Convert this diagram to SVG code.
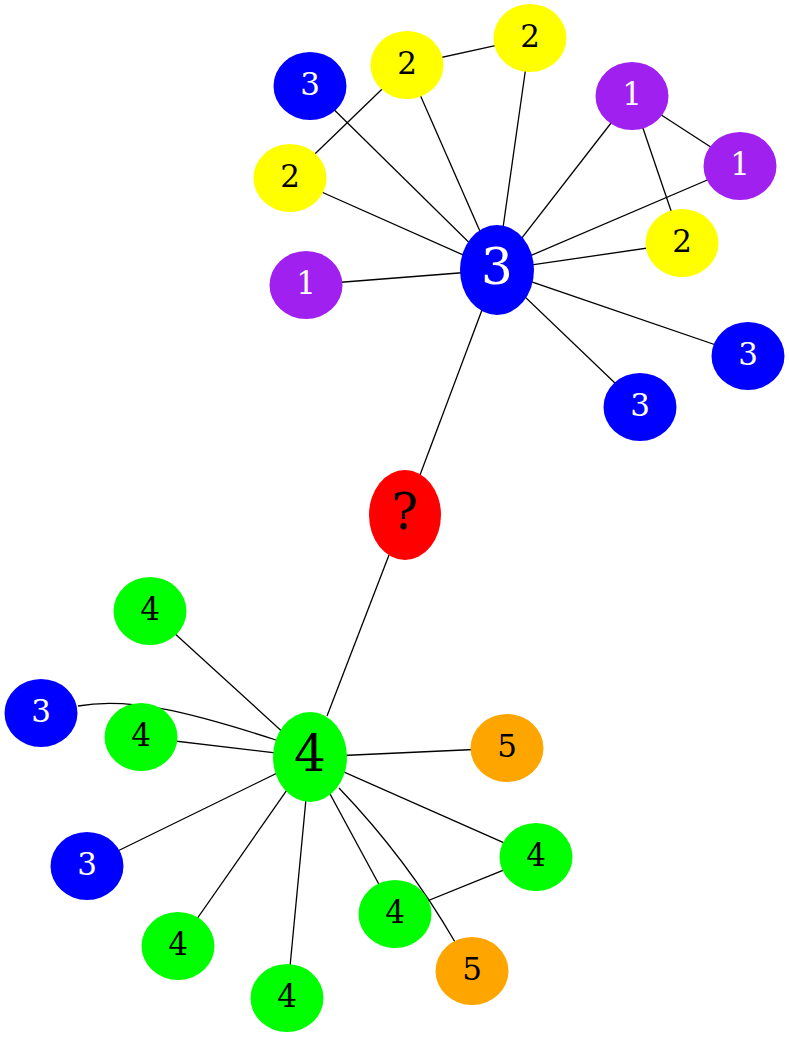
<svg xmlns="http://www.w3.org/2000/svg" width="789" height="1038" viewBox="0 0 789 1038">
<style>
.e{stroke:#000;stroke-width:1.3;fill:none}
.t{font-family:"DejaVu Serif","Liberation Serif",serif;font-size:31px;text-anchor:middle}
.big{font-size:50px}
.w{fill:#fff}
.k{fill:#000}
.blue{fill:#0000ff}.yel{fill:#ffff00}.pur{fill:#a020f0}.grn{fill:#00ff00}.org{fill:#ffa500}.red{fill:#ff0000}
</style>
<rect width="789" height="1038" fill="#fff"/>
<g id="connectors">
<line class="e" x1="497" y1="270" x2="310" y2="86"/>
<line class="e" x1="497" y1="270" x2="407" y2="65"/>
<line class="e" x1="497" y1="270" x2="530" y2="38"/>
<line class="e" x1="407" y1="65" x2="530" y2="38"/>
<line class="e" x1="290" y1="178" x2="407" y2="65"/>
<line class="e" x1="497" y1="270" x2="290" y2="178"/>
<line class="e" x1="497" y1="270" x2="632" y2="96"/>
<line class="e" x1="632" y1="96" x2="740" y2="166"/>
<line class="e" x1="632" y1="96" x2="682" y2="243"/>
<line class="e" x1="497" y1="270" x2="740" y2="166"/>
<line class="e" x1="497" y1="270" x2="682" y2="243"/>
<line class="e" x1="497" y1="270" x2="306" y2="285"/>
<line class="e" x1="497" y1="270" x2="748" y2="356"/>
<line class="e" x1="497" y1="270" x2="640" y2="407"/>
<line class="e" x1="497" y1="270" x2="405" y2="515"/>
<path class="e" d="M389,555 Q360,630 327,716"/>
<line class="e" x1="310" y1="757" x2="150" y2="611"/>
<path class="e" d="M78,706 C130,697 190,712 276,740"/>
<line class="e" x1="310" y1="757" x2="141" y2="737"/>
<line class="e" x1="310" y1="757" x2="507" y2="748"/>
<line class="e" x1="310" y1="757" x2="87" y2="866"/>
<line class="e" x1="310" y1="757" x2="536" y2="857"/>
<line class="e" x1="310" y1="757" x2="395" y2="914"/>
<line class="e" x1="395" y1="914" x2="536" y2="857"/>
<path class="e" d="M339,788 Q407,859 455,942"/>
<line class="e" x1="310" y1="757" x2="178" y2="946"/>
<line class="e" x1="310" y1="757" x2="287" y2="998"/>
</g>
<g id="n_center3"><ellipse class="blue" cx="497" cy="270" rx="37" ry="45"/><text class="t big w" x="497" y="284">3</text></g>
<g id="n_b3a"><ellipse class="blue" cx="310" cy="86" rx="36.5" ry="34"/><text class="t w" x="310" y="95">3</text></g>
<g id="n_y2a"><ellipse class="yel" cx="407" cy="65" rx="36.5" ry="34"/><text class="t k" x="407" y="74">2</text></g>
<g id="n_y2b"><ellipse class="yel" cx="530" cy="38" rx="36.5" ry="34"/><text class="t k" x="530" y="47">2</text></g>
<g id="n_y2c"><ellipse class="yel" cx="290" cy="178" rx="36.5" ry="34"/><text class="t k" x="290" y="187">2</text></g>
<g id="n_p1a"><ellipse class="pur" cx="632" cy="96" rx="36.5" ry="34"/><text class="t w" x="632" y="105">1</text></g>
<g id="n_p1b"><ellipse class="pur" cx="740" cy="166" rx="36.5" ry="34"/><text class="t w" x="740" y="175">1</text></g>
<g id="n_y2d"><ellipse class="yel" cx="682" cy="243" rx="36.5" ry="34"/><text class="t k" x="682" y="252">2</text></g>
<g id="n_p1c"><ellipse class="pur" cx="306" cy="285" rx="36.5" ry="34"/><text class="t w" x="306" y="294">1</text></g>
<g id="n_b3b"><ellipse class="blue" cx="748" cy="356" rx="36.5" ry="34"/><text class="t w" x="748" y="365">3</text></g>
<g id="n_b3c"><ellipse class="blue" cx="640" cy="407" rx="36.5" ry="34"/><text class="t w" x="640" y="416">3</text></g>
<g id="n_q"><ellipse class="red" cx="405" cy="515" rx="36" ry="45"/><text class="t big k" x="405" y="529">?</text></g>
<g id="n_center4"><ellipse class="grn" cx="310" cy="757" rx="37" ry="45"/><text class="t big k" x="310" y="771">4</text></g>
<g id="n_g4a"><ellipse class="grn" cx="150" cy="611" rx="36.5" ry="34"/><text class="t k" x="150" y="620">4</text></g>
<g id="n_b3d"><ellipse class="blue" cx="41" cy="713" rx="36.5" ry="34"/><text class="t w" x="41" y="722">3</text></g>
<g id="n_g4b"><ellipse class="grn" cx="141" cy="737" rx="36.5" ry="34"/><text class="t k" x="141" y="746">4</text></g>
<g id="n_o5a"><ellipse class="org" cx="507" cy="748" rx="36.5" ry="34"/><text class="t k" x="507" y="757">5</text></g>
<g id="n_b3e"><ellipse class="blue" cx="87" cy="866" rx="36.5" ry="34"/><text class="t w" x="87" y="875">3</text></g>
<g id="n_g4c"><ellipse class="grn" cx="536" cy="857" rx="36.5" ry="34"/><text class="t k" x="536" y="866">4</text></g>
<g id="n_g4d"><ellipse class="grn" cx="395" cy="914" rx="36.5" ry="34"/><text class="t k" x="395" y="923">4</text></g>
<g id="n_o5b"><ellipse class="org" cx="472" cy="971" rx="36.5" ry="34"/><text class="t k" x="472" y="980">5</text></g>
<g id="n_g4e"><ellipse class="grn" cx="178" cy="946" rx="36.5" ry="34"/><text class="t k" x="178" y="955">4</text></g>
<g id="n_g4f"><ellipse class="grn" cx="287" cy="998" rx="36.5" ry="34"/><text class="t k" x="287" y="1007">4</text></g>
</svg>
